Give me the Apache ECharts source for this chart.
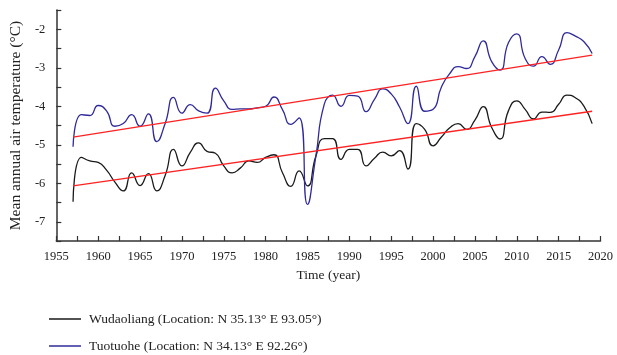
<!DOCTYPE html>
<html>
<head>
<meta charset="utf-8">
<script src="https://cdn.jsdelivr.net/npm/echarts@6/dist/echarts.min.js"></script>
<style>
html,body{margin:0;padding:0;background:#fff;}
#chart{width:617px;height:355px;}
</style>
</head>
<body>
<div id="chart"></div>
<script>
var years = [1957,1958,1959,1960,1961,1962,1963,1964,1965,1966,1967,1968,1969,1970,1971,1972,1973,1974,1975,1976,1977,1978,1979,1980,1981,1982,1983,1984,1985,1986,1987,1988,1989,1990,1991,1992,1993,1994,1995,1996,1997,1998,1999,2000,2001,2002,2003,2004,2005,2006,2007,2008,2009,2010,2011,2012,2013,2014,2015,2016,2017,2018,2019];

var wudaoliang = [-6.48,-5.33,-5.42,-5.46,-5.66,-5.97,-6.2,-5.73,-6.06,-5.75,-6.2,-5.8,-5.12,-5.55,-5.2,-4.95,-5.17,-5.22,-5.55,-5.73,-5.6,-5.42,-5.46,-5.33,-5.26,-5.72,-6.08,-5.68,-6.07,-5.3,-4.84,-4.84,-5.38,-5.12,-5.12,-5.55,-5.35,-5.19,-5.29,-5.15,-5.63,-4.45,-4.6,-5.03,-4.8,-4.56,-4.45,-4.6,-4.36,-4.01,-4.55,-4.85,-4.12,-3.86,-4.08,-4.33,-4.15,-4.16,-3.95,-3.71,-3.78,-3.99,-4.45];

var tuotuohe = [-5.05,-4.22,-4.24,-3.98,-4.12,-4.52,-4.45,-4.22,-4.52,-4.2,-4.92,-4.45,-3.77,-4.18,-3.96,-4.12,-4.18,-3.53,-3.86,-4.08,-4.07,-4.07,-4.04,-4.0,-3.76,-4.08,-4.47,-4.3,-6.55,-5.3,-3.95,-3.71,-4.0,-3.72,-3.74,-4.14,-3.82,-3.55,-3.68,-4.02,-4.45,-3.48,-4.13,-4.08,-3.5,-3.15,-2.97,-3.02,-2.71,-2.3,-2.84,-3.06,-2.35,-2.12,-2.76,-2.96,-2.71,-2.91,-2.54,-2.09,-2.18,-2.32,-2.63];

var trendYears = [1957, 2019];
var wudaoliangTrend = [-6.07, -4.13];
var tuotuoheTrend = [-4.8, -2.67];

var seriesNames = ['Wudaoliang (Location: N 35.13° E 93.05°)', 'Tuotuohe (Location: N 34.13° E 92.26°)'];
var xAxisName = 'Time (year)';
var yAxisName = 'Mean annual air temperature (°C)';

function pairs(xs, ys) { return xs.map(function (x, i) { return [x, ys[i]]; }); }

var FONT = '"Liberation Serif", "DejaVu Serif", serif';
var legendBase = {
  orient: 'vertical',
  left: 44,
  itemWidth: 32,
  itemHeight: 1.5,
  icon: 'rect',
  textStyle: { fontFamily: FONT, fontSize: 13.5, color: '#222', padding: [0, 0, 0, 3] }
};
var chart = echarts.init(document.getElementById('chart'));
chart.setOption({
  animation: false,
  backgroundColor: '#ffffff',
  grid: { left: 55.5, right: 16.5, top: 10, bottom: 114, containLabel: false },
  legend: [
    Object.assign({}, legendBase, { top: 307, data: [seriesNames[0]] }),
    Object.assign({}, legendBase, { top: 334, data: [seriesNames[1]] })
  ],
  xAxis: {
    type: 'value',
    min: 1955, max: 2020, interval: 2.5,
    name: xAxisName,
    nameLocation: 'middle',
    nameGap: 27,
    nameTextStyle: { fontFamily: FONT, fontSize: 13.5, color: '#222' },
    axisLine: { lineStyle: { color: '#333', width: 1.5 } },
    axisTick: { inside: true, length: 5, lineStyle: { color: '#333', width: 1.2 } },
    axisLabel: {
      fontFamily: FONT, fontSize: 12.5, color: '#222', margin: 9,
      formatter: function (v) { return (Math.abs(v % 5) < 1e-6) ? String(v) : ''; }
    },
    splitLine: { show: false }
  },
  yAxis: {
    type: 'value',
    min: -7.5, max: -1.5, interval: 0.5,
    name: yAxisName,
    nameLocation: 'middle',
    nameGap: 32,
    nameRotate: 90,
    nameTextStyle: { fontFamily: FONT, fontSize: 15.5, color: '#222' },
    axisLine: { show: true, lineStyle: { color: '#333', width: 1.5 } },
    axisTick: { show: true, inside: true, length: 5, lineStyle: { color: '#333', width: 1.2 } },
    axisLabel: {
      fontFamily: FONT, fontSize: 12.5, color: '#222', margin: 11,
      formatter: function (v) { return (Math.abs(v % 1) < 1e-6) ? String(v) : ''; }
    },
    splitLine: { show: false }
  },
  series: [
    {
      name: seriesNames[0], type: 'line', data: pairs(years, wudaoliang),
      smooth: 0.55, symbol: 'none', color: '#1a1a1a',
      lineStyle: { color: '#1a1a1a', width: 1.3 }, z: 2
    },
    {
      name: seriesNames[1], type: 'line', data: pairs(years, tuotuohe),
      smooth: 0.55, symbol: 'none', color: '#2f2a98',
      lineStyle: { color: '#2f2a98', width: 1.3 }, z: 2
    },
    {
      name: 'trend1', type: 'line', data: pairs(trendYears, wudaoliangTrend),
      symbol: 'none', lineStyle: { color: '#ff2222', width: 1.3 }, z: 3
    },
    {
      name: 'trend2', type: 'line', data: pairs(trendYears, tuotuoheTrend),
      symbol: 'none', lineStyle: { color: '#ff2222', width: 1.3 }, z: 3
    }
  ]
});
</script>
</body>
</html>
